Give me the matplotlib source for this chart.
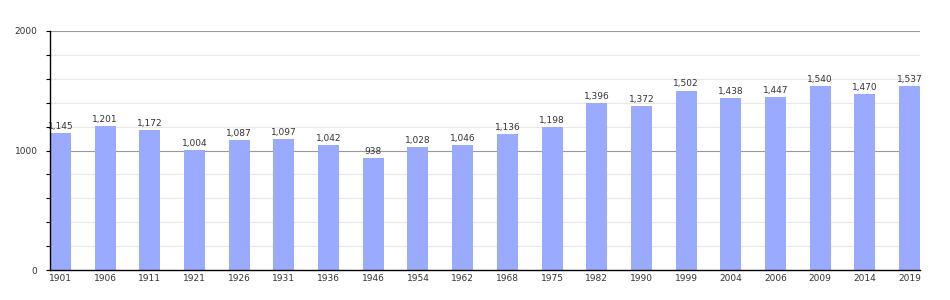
import matplotlib
matplotlib.use("Agg")
import matplotlib.pyplot as plt

years = ["1901", "1906", "1911", "1921", "1926", "1931", "1936", "1946", "1954", "1962",
         "1968", "1975", "1982", "1990", "1999", "2004", "2006", "2009", "2014", "2019"]
population = [1145, 1201, 1172, 1004, 1087, 1097, 1042, 938, 1028, 1046,
              1136, 1198, 1396, 1372, 1502, 1438, 1447, 1540, 1470, 1537]
y_major = [0, 1000, 2000]

fig = plt.figure(figsize=(9.5, 3.0), dpi=100)
ax = fig.add_axes([50/950, 30/300, 870/950, 239/300])

x = list(range(len(years)))
w = 0.47
bars = ax.bar(x, population, width=w, color="#99aaff", zorder=3)
for xi, v in zip(x, population):
    ax.text(xi, v + 18, f"{v:,}", ha="center", va="bottom", fontsize=6.5,
            color="#333333", zorder=4)

ax.set_xlim(-w/2, len(years) - 1 + w/2)
ax.set_ylim(0, 2000)
ax.set_xticks(x)
ax.set_xticklabels(years, fontsize=6.5, color="#333333")
ax.set_yticks(y_major)
ax.set_yticklabels([str(v) for v in y_major], fontsize=6.5, color="#333333")
ax.set_yticks(range(0, 2001, 200), minor=True)
ax.tick_params(axis="x", length=0, pad=3)
ax.tick_params(axis="y", which="both", length=3, width=0.8, color="black", pad=6)

for v in range(200, 2001, 200):
    if v % 1000 == 0:
        ax.axhline(v, color="#999999", lw=0.8, zorder=1)
    else:
        ax.axhline(v, color="#e8e8e8", lw=0.8, zorder=1)

for s in ["top", "right"]:
    ax.spines[s].set_visible(False)
ax.spines["left"].set_color("black")
ax.spines["bottom"].set_color("black")
ax.spines["left"].set_linewidth(1.0)
ax.spines["bottom"].set_linewidth(1.0)
ax.spines["left"].set_zorder(5)
ax.spines["bottom"].set_zorder(5)

fig.savefig("out.png", dpi=100)
